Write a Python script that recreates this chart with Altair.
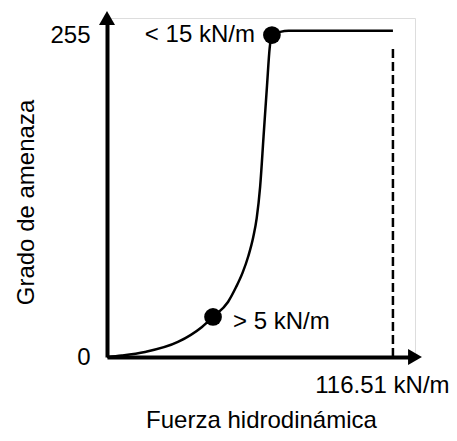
import altair as alt
import pandas as pd

# Curve (Fuerza hidrodinámica vs Grado de amenaza)
curve_x = [0.0, 6.0, 15.5, 28.9, 38.7, 43.2, 49.3, 52.6, 55.3, 57.6, 59.6, 61.0, 62.4, 63.8, 65.2, 66.3, 67.2, 74.0, 116.51]
curve_y = [0.0, 1.2, 4.0, 11.9, 23.8, 31.7, 43.6, 55.4, 67.0, 80.0, 95.0, 110.0, 135.0, 175.0, 215.0, 245.0, 255.0, 258.5, 258.5]

# Marked points and their labels
pt_x = [43.2, 67.2]
pt_y = [31.7, 255.0]
pt_label = ["> 5 kN/m", "< 15 kN/m"]

# Dashed limit line
lim_x = [116.51, 116.51]
lim_y = [0.0, 247.0]

# Axis ticks
y_ticks = [0, 255]
x_ticks = [116.51]

XMAX = 125.5
YMAX = 268.5
FONT = "Liberation Sans"

xs = alt.Scale(domain=[0, XMAX], nice=False, zero=False)
ys = alt.Scale(domain=[0, YMAX], nice=False, zero=False)

curve_df = pd.DataFrame({"x": curve_x, "y": curve_y, "o": range(len(curve_x))})
pt_df = pd.DataFrame({"x": pt_x, "y": pt_y, "label": pt_label})
lim_df = pd.DataFrame({"x": lim_x, "y": lim_y})
arrow_df = pd.DataFrame({"x": [XMAX, 0.0], "y": [0.0, YMAX], "shape": ["triangle-right", "triangle-up"]})

base_x = alt.X("x:Q", scale=xs, axis=alt.Axis(
    values=x_ticks, format=".2f", labelExpr="datum.label + ' kN/m'",
    title="Fuerza hidrodinámica", titleFont=FONT, titleFontSize=24, titleFontWeight="normal",
    titleColor="black", titleBaseline="alphabetic", titleY=70,
    labelFont=FONT, labelFontSize=24, labelColor="black", labelPadding=16,
    labelOffset=-11, labelFlush=False,
    ticks=False, grid=False, domainColor="black", domainWidth=4))
base_y = alt.Y("y:Q", scale=ys, axis=alt.Axis(
    values=y_ticks, format="d",
    title="Grado de amenaza", titleFont=FONT, titleFontSize=24, titleFontWeight="normal",
    titleColor="black", titleAngle=270, titleBaseline="alphabetic", titleAlign="center",
    titleX=-74, titleY=184,
    labelFont=FONT, labelFontSize=24, labelColor="black", labelPadding=17,
    ticks=False, grid=False, domainColor="black", domainWidth=4))

line = alt.Chart(curve_df).mark_line(color="black", strokeWidth=2.5, interpolate="monotone").encode(
    x=base_x, y=base_y, order="o:Q")

dash = alt.Chart(lim_df).mark_line(color="black", strokeWidth=2.5, strokeDash=[9, 4]).encode(
    x=alt.X("x:Q", scale=xs), y=alt.Y("y:Q", scale=ys))

dots = alt.Chart(pt_df).mark_circle(color="black", size=314, opacity=1).encode(
    x=alt.X("x:Q", scale=xs), y=alt.Y("y:Q", scale=ys))

lab1 = alt.Chart(pt_df.iloc[[0]]).mark_text(font=FONT, fontSize=24, color="black", align="left",
                                            baseline="middle", dx=20, dy=5).encode(
    x=alt.X("x:Q", scale=xs), y=alt.Y("y:Q", scale=ys), text="label:N")
lab2 = alt.Chart(pt_df.iloc[[1]]).mark_text(font=FONT, fontSize=24, color="black", align="right",
                                            baseline="middle", dx=-17, dy=0).encode(
    x=alt.X("x:Q", scale=xs), y=alt.Y("y:Q", scale=ys), text="label:N")

arrows = alt.Chart(arrow_df).mark_point(filled=True, color="black", size=256, opacity=1).encode(
    x=alt.X("x:Q", scale=xs), y=alt.Y("y:Q", scale=ys),
    shape=alt.Shape("shape:N", scale=None))

chart = alt.layer(line, dash, dots, lab1, lab2, arrows).properties(
    width=308, height=339,
    padding={"left": 99, "top": 10, "right": 34, "bottom": 76},
    autosize=alt.AutoSizeParams(type="none"),
).configure_view(stroke=None).configure(background="white")

chart.save("out.html", embed_options={"renderer": "svg", "actions": False})
